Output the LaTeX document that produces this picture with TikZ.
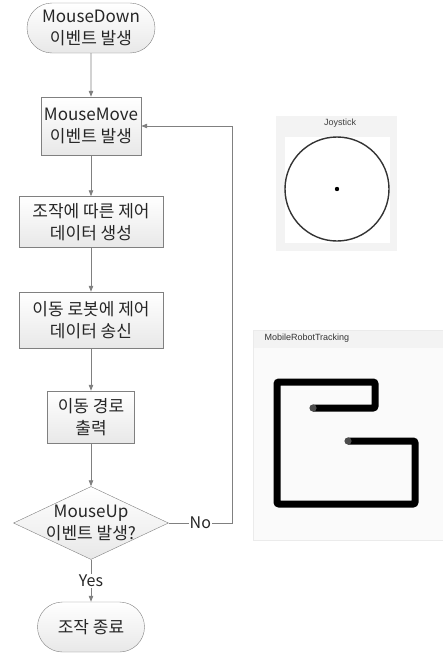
\documentclass[tikz,border=0pt]{standalone}
\usepackage{fontspec}
\setmainfont{Noto Sans CJK KR}
\newfontfamily\uifont{Liberation Sans}
\usetikzlibrary{arrows.meta,shapes.geometric,shapes.misc,positioning}

\definecolor{edgegray}{HTML}{808080}
\definecolor{panelgray}{HTML}{F3F3F3}

\begin{document}
\begin{tikzpicture}[x=1pt,y=-1pt,
    txt/.style={align=center, font=\fontsize{17}{22}\selectfont, inner sep=0pt, text=black!85},
    box/.style={txt, draw=edgegray, top color=white, bottom color=black!9, rectangle},
    term/.style={txt, draw=edgegray, top color=white, bottom color=black!9, rounded rectangle},
    decision/.style={diamond, draw=edgegray, top color=white, bottom color=black!9, inner sep=0pt, minimum width=155pt, minimum height=73pt},
    arr/.style={-{Triangle[length=6pt,width=4.5pt]}, draw=edgegray, line width=0.8pt},
    lbl/.style={fill=white, inner sep=1pt, font=\fontsize{16}{18}\selectfont, text=black!85}
]
\useasboundingbox (0,0) rectangle (443,653);

% flowchart
\node[term, minimum width=128pt, minimum height=50pt] (down) at (91,28) {MouseDown\\이벤트 발생};
\node[box, minimum width=100pt, minimum height=58pt] (move) at (91,126) {MouseMove\\이벤트 발생};
\node[box, minimum width=144pt, minimum height=51pt] (gen) at (91,222) {조작에 따른 제어\\데이터 생성};
\node[box, minimum width=144pt, minimum height=56pt] (send) at (91,320) {이동 로봇에 제어\\데이터 송신};
\node[box, minimum width=87pt, minimum height=52pt] (path) at (91,417) {이동 경로\\출력};
\node[decision] (up) at (91,523) {};
\node[txt] (uptext) at (up) {MouseUp\\이벤트 발생?};
\node[term, minimum width=107pt, minimum height=50pt] (stop) at (91,627) {조작 종료};
\coordinate (back) at (232,523);

\draw[arr] (down) -- (move);
\draw[arr] (move) -- (gen);
\draw[arr] (gen) -- (send);
\draw[arr] (send) -- (path);
\draw[arr] (path) -- (up);
\draw[arr] (up) -- node[lbl] {Yes} (stop);
\draw[arr] (up.east) -- node[lbl] {No} (back) |- (move.east);

% joystick panel
\fill[panelgray] (276,116) rectangle (397,251);
\fill[white] (285,137) rectangle (390,243);
\node[font=\uifont\fontsize{9}{10}\selectfont, text=black!75] (joytitle) at (340,123) {Joystick};
\draw[black!80, line width=1.4pt] (337,189) circle (52pt);
\fill[black] (337,189) circle (2.2pt);

% tracking panel
\filldraw[fill=black!2, draw=black!8] (253,330) rectangle (445,540);
\fill[panelgray] (253.5,330.5) rectangle (445,348);
\node[font=\uifont\fontsize{9}{10}\selectfont, text=black!80, anchor=west] (tracktitle) at (261,338) {MobileRobotTracking};
\draw[black, line width=7pt, rounded corners=2pt]
    (313,408) -- (375,408) -- (375,382) -- (277,382) -- (277,504) -- (415,504) -- (415,441) -- (348,441);
\fill[black!70] (313,408) circle (3.6pt);
\fill[black!70] (348,441) circle (3.6pt);
\end{tikzpicture}
\end{document}
